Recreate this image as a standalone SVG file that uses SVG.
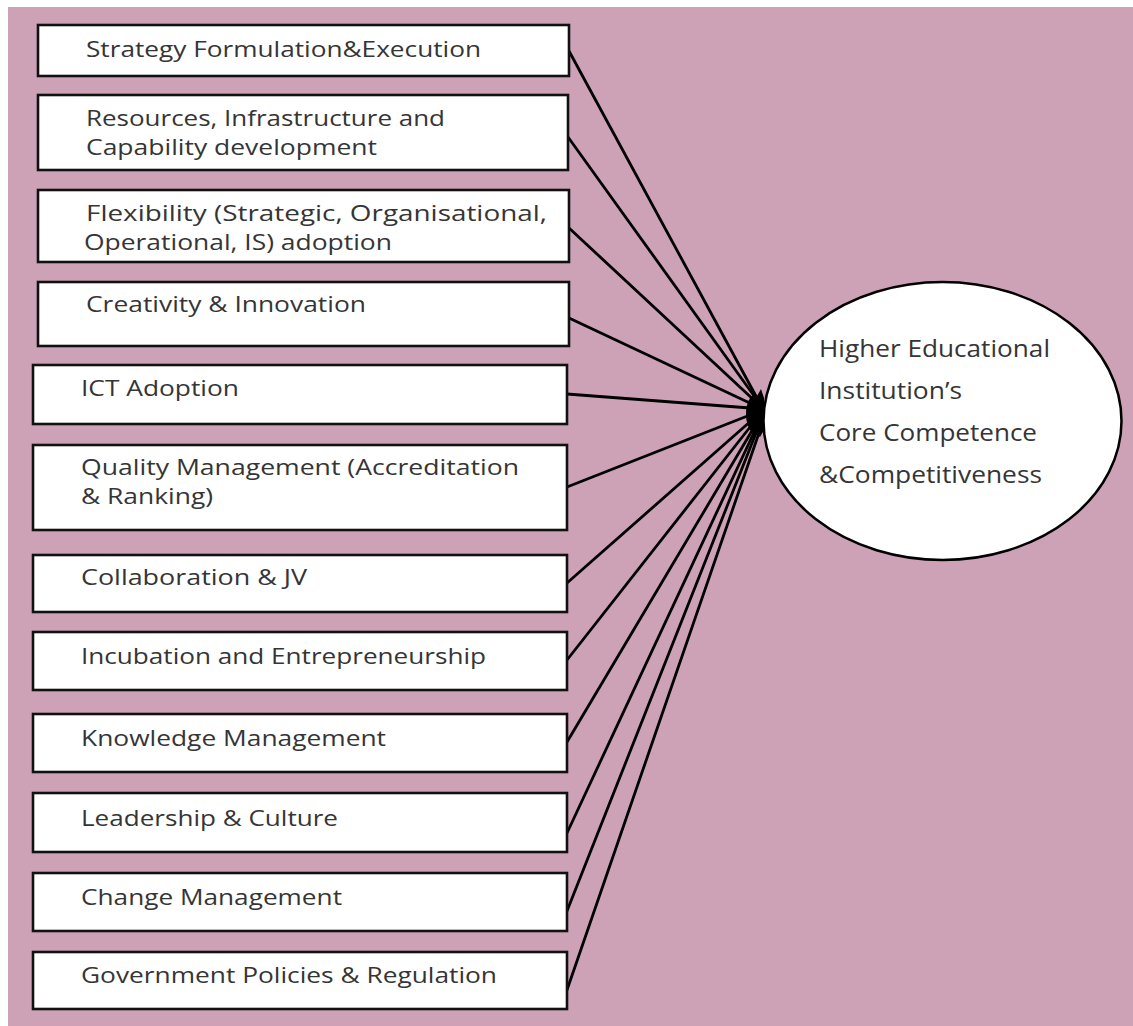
<svg xmlns="http://www.w3.org/2000/svg" width="1133" height="1026" viewBox="0 0 1133 1026">
  <style>
    .box { fill: #ffffff; stroke: #111111; stroke-width: 2.6; }
    .lbl { font-family: "Open Sans", "Noto Sans", "Liberation Sans", sans-serif; font-size: 22.5px; fill: #353535; }
    .big { font-size: 24px; }
    .link { stroke: #000000; stroke-width: 2.8; fill: none; stroke-linecap: round; }
  </style>

  <!-- page background -->
  <rect x="0" y="0" width="1133" height="1026" fill="#ffffff"/>
  <rect x="8" y="7" width="1125" height="1019" fill="#cda2b6"/>

  <!-- connectors: every factor feeds into the outcome node -->
  <g id="connectors">
    <line class="link" x1="569" y1="51" x2="757" y2="398"/>
    <line class="link" x1="568" y1="137" x2="757" y2="400"/>
    <line class="link" x1="569" y1="228" x2="756" y2="402"/>
    <line class="link" x1="569" y1="318" x2="754" y2="405"/>
    <line class="link" x1="567" y1="394" x2="750" y2="408"/>
    <line class="link" x1="567" y1="487" x2="750" y2="415"/>
    <line class="link" x1="567" y1="583" x2="752" y2="420"/>
    <line class="link" x1="567" y1="660" x2="754" y2="422"/>
    <line class="link" x1="567" y1="742" x2="756" y2="424"/>
    <line class="link" x1="567" y1="833" x2="757" y2="426"/>
    <line class="link" x1="567" y1="911" x2="758" y2="428"/>
    <line class="link" x1="567" y1="990" x2="760" y2="430"/>
    <!-- converging knot -->
    <ellipse cx="755" cy="414" rx="9" ry="19" fill="#000000"/>
    <polygon points="757,396 761,389 764,398 764,430 760,437 752,432" fill="#000000"/>
  </g>

  <g id="n-strategy">
    <rect class="box" x="38" y="25" width="531" height="51"/>
    <text class="lbl" x="86" y="57" textLength="395" lengthAdjust="spacingAndGlyphs">Strategy Formulation&amp;Execution</text>
  </g>

  <g id="n-resources">
    <rect class="box" x="38" y="95" width="530" height="75"/>
    <text class="lbl" x="86" y="126" textLength="359" lengthAdjust="spacingAndGlyphs">Resources, Infrastructure and</text>
    <text class="lbl" x="86" y="155" textLength="291" lengthAdjust="spacingAndGlyphs">Capability development</text>
  </g>

  <g id="n-flexibility">
    <rect class="box" x="38" y="190" width="531" height="72"/>
    <text class="lbl" x="86" y="221" textLength="461" lengthAdjust="spacingAndGlyphs">Flexibility (Strategic, Organisational,</text>
    <text class="lbl" x="84" y="250" textLength="308" lengthAdjust="spacingAndGlyphs">Operational, IS) adoption</text>
  </g>

  <g id="n-creativity">
    <rect class="box" x="38" y="282" width="531" height="64"/>
    <text class="lbl" x="86" y="312" textLength="280" lengthAdjust="spacingAndGlyphs">Creativity &amp; Innovation</text>
  </g>

  <g id="n-ict">
    <rect class="box" x="33" y="365" width="534" height="59"/>
    <text class="lbl" x="81" y="396" textLength="158" lengthAdjust="spacingAndGlyphs">ICT Adoption</text>
  </g>

  <g id="n-quality">
    <rect class="box" x="33" y="445" width="534" height="85"/>
    <text class="lbl" x="81" y="475" textLength="438" lengthAdjust="spacingAndGlyphs">Quality Management (Accreditation</text>
    <text class="lbl" x="81" y="504" textLength="132" lengthAdjust="spacingAndGlyphs">&amp; Ranking)</text>
  </g>

  <g id="n-collaboration">
    <rect class="box" x="33" y="555" width="534" height="57"/>
    <text class="lbl" x="81" y="585" textLength="226" lengthAdjust="spacingAndGlyphs">Collaboration &amp; JV</text>
  </g>

  <g id="n-incubation">
    <rect class="box" x="33" y="632" width="534" height="58"/>
    <text class="lbl" x="81" y="664" textLength="405" lengthAdjust="spacingAndGlyphs">Incubation and Entrepreneurship</text>
  </g>

  <g id="n-knowledge">
    <rect class="box" x="33" y="714" width="534" height="58"/>
    <text class="lbl" x="81" y="746" textLength="305" lengthAdjust="spacingAndGlyphs">Knowledge Management</text>
  </g>

  <g id="n-leadership">
    <rect class="box" x="33" y="793" width="534" height="59"/>
    <text class="lbl" x="81" y="826" textLength="257" lengthAdjust="spacingAndGlyphs">Leadership &amp; Culture</text>
  </g>

  <g id="n-change">
    <rect class="box" x="33" y="873" width="534" height="58"/>
    <text class="lbl" x="81" y="905" textLength="261" lengthAdjust="spacingAndGlyphs">Change Management</text>
  </g>

  <g id="n-government">
    <rect class="box" x="33" y="952" width="534" height="57"/>
    <text class="lbl" x="81" y="983" textLength="416" lengthAdjust="spacingAndGlyphs">Government Policies &amp; Regulation</text>
  </g>

  <g id="n-outcome">
    <ellipse cx="942.5" cy="421" rx="179" ry="139" fill="#ffffff" stroke="#000000" stroke-width="2.5"/>
    <text class="lbl big" x="819" y="357" textLength="231" lengthAdjust="spacingAndGlyphs">Higher Educational</text>
    <text class="lbl big" x="819" y="399" textLength="143" lengthAdjust="spacingAndGlyphs">Institution’s</text>
    <text class="lbl big" x="819" y="441" textLength="218" lengthAdjust="spacingAndGlyphs">Core Competence</text>
    <text class="lbl big" x="819" y="483" textLength="223" lengthAdjust="spacingAndGlyphs">&amp;Competitiveness</text>
  </g>
</svg>
